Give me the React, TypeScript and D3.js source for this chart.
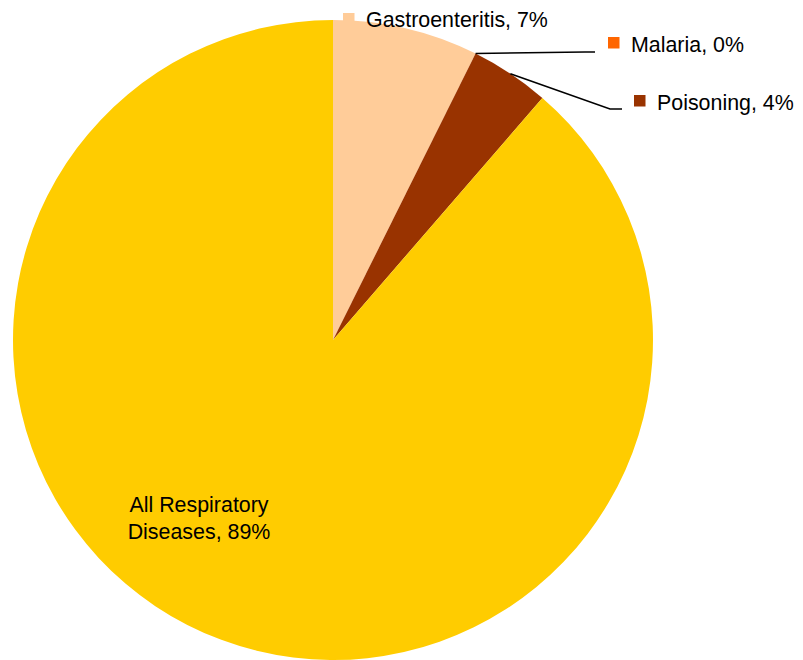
import React from "react";
import * as d3 from "d3";

const categories = ["Gastroenteritis", "Malaria", "Poisoning", "All Respiratory Diseases"];
const values = [7.35, 0, 4.0, 88.65];
const percentLabels = ["7%", "0%", "4%", "89%"];
const colors = ["#FFCC99", "#FF6600", "#993300", "#FFCC00"];

const W = 803;
const H = 660;
const CX = 333;
const CY = 340;
const R = 320;
const FONT = "'Liberation Sans', Arial, sans-serif";
const FS = 21.4;

export default function App() {
  const pie = d3.pie<number>().sort(null).value((d) => d)(values);
  const arc = d3.arc<d3.PieArcDatum<number>>().innerRadius(0).outerRadius(R);

  const edgePoint = (a: number, rr: number) => [Math.sin(a) * rr, -Math.cos(a) * rr];

  // external label layout (legend-key squares + text), relative to svg
  const ext = [
    { key: [343, 13], text: [366, 27], leader: null as null | number[][] },
    { key: [608, 37], text: [631, 52], leader: [[585, 52], [595, 52]] },
    { key: [634, 95], text: [657, 110], leader: [[610, 109], [622, 109]] },
  ];

  return (
    <svg
      width={W}
      height={H}
      style={{ position: "absolute", left: 0, top: 0, background: "#fff" }}
      fontFamily={FONT}
    >
      <g transform={`translate(${CX},${CY})`}>
        {pie.map((p, i) =>
          p.endAngle > p.startAngle ? <path key={i} d={arc(p) || ""} fill={colors[i]} /> : null
        )}
      </g>
      {ext.map((e, i) => {
        const p = pie[i];
        const mid = (p.startAngle + p.endAngle) / 2;
        const [sx, sy] = edgePoint(mid, R);
        return (
          <g key={i}>
            {e.leader && (
              <polyline
                points={[[CX + sx, CY + sy], ...e.leader].map((q) => q.join(",")).join(" ")}
                fill="none"
                stroke="#000"
                strokeWidth={1.6}
              />
            )}
            <rect x={e.key[0]} y={e.key[1]} width={11.5} height={11.5} fill={colors[i]} />
            <text x={e.text[0]} y={e.text[1]} fontSize={FS} fill="#000">
              {`${categories[i]}, ${percentLabels[i]}`}
            </text>
          </g>
        );
      })}
      <text x={199} y={512} fontSize={FS} fill="#000" textAnchor="middle">
        <tspan x={199} y={512}>All Respiratory</tspan>
        <tspan x={199} y={539}>{`Diseases, ${percentLabels[3]}`}</tspan>
      </text>
    </svg>
  );
}
